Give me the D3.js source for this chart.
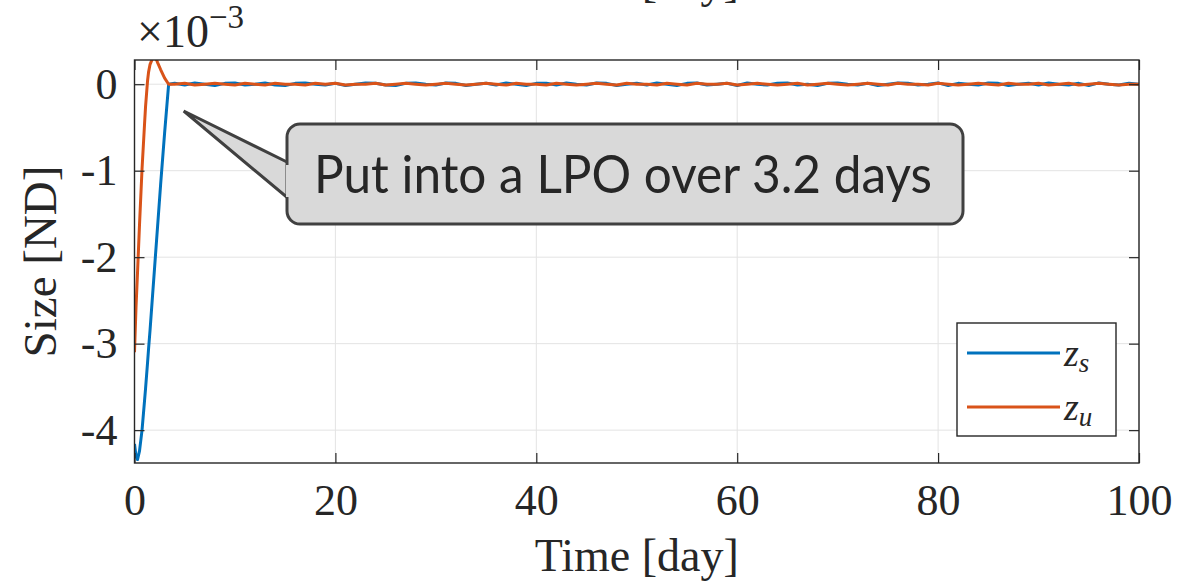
<!DOCTYPE html>
<html>
<head>
<meta charset="utf-8">
<script src="https://cdn.jsdelivr.net/npm/d3@7"></script>
<style>
  body { margin: 0; background: #fff; }
  text { fill: #262626; }
</style>
</head>
<body>
<div id="chart"></div>
<script>
// time in days, values in units of 1e-3 (ND)
var timeDays = [0, 0.15, 0.3, 0.5, 0.75, 1.0, 1.1, 1.3, 1.4, 1.55, 1.8, 2.0, 2.2, 2.3, 2.6, 3.0, 3.4,
  4, 5, 6, 7, 8, 9, 10, 11, 12, 13, 14, 15, 16, 17, 18, 19, 20, 21, 22, 23, 24, 25, 26, 27, 28, 29,
  30, 31, 32, 33, 34, 35, 36, 37, 38, 39, 40, 41, 42, 43, 44, 45, 46, 47, 48, 49, 50, 51, 52, 53, 54,
  55, 56, 57, 58, 59, 60, 61, 62, 63, 64, 65, 66, 67, 68, 69, 70, 71, 72, 73, 74, 75, 76, 77, 78, 79,
  80, 81, 82, 83, 84, 85, 86, 87, 88, 89, 90, 91, 92, 93, 94, 95, 96, 97, 98, 99, 100];

var zs = [-4.16, -4.30, -4.34, -4.24, -4.00, -3.66, -3.52, -3.22, -3.06, -2.84, -2.44, -2.12, -1.80, -1.64, -1.16, -0.56, 0.00,
  0.01, -0.01, 0.015, 0.00, -0.015, 0.01, 0.015, -0.01, 0.00, 0.015,
  -0.01, -0.015, 0.01, 0.015, 0.00, -0.01, 0.01, -0.015, 0.00, 0.015,
  0.01, -0.01, -0.015, 0.01, 0.015, 0.00, -0.01, 0.015, 0.01, -0.015,
  0.00, 0.01, -0.01, 0.015, 0.00, -0.015, 0.01, 0.01, -0.01, 0.015,
  0.00, -0.01, 0.015, 0.01, -0.015, 0.00, 0.01, -0.01, 0.015, 0.00,
  -0.015, 0.01, 0.015, -0.01, 0.00, 0.01, -0.015, 0.015, 0.00, -0.01,
  0.01, 0.015, -0.01, 0.00, -0.015, 0.01, 0.015, 0.00, -0.01, 0.01,
  -0.015, 0.00, 0.015, 0.01, -0.01, 0.00, 0.015, -0.015, 0.01, 0.00,
  -0.01, 0.015, 0.01, -0.015, 0.00, 0.01, -0.01, 0.015, 0.00, -0.01,
  0.01, -0.015, 0.015, 0.00, -0.01, 0.01, 0.00];

var zu = [-3.10, -2.58, -2.18, -1.62, -0.98, -0.46, -0.26, 0.04, 0.14, 0.23, 0.30, 0.30, 0.28, 0.25, 0.17, 0.07, 0.00,
  0.00, 0.01, -0.01, 0.00, 0.01, 0.00, -0.01, 0.01, 0.00, -0.01,
  0.01, 0.00, 0.00, -0.01, 0.01, 0.00, 0.01, -0.01, 0.00, 0.00,
  0.01, -0.01, 0.00, 0.01, 0.00, -0.01, 0.00, 0.01, 0.00, -0.01,
  0.00, 0.01, 0.00, -0.01, 0.01, 0.00, 0.00, -0.01, 0.01, 0.00,
  -0.01, 0.00, 0.01, 0.00, -0.01, 0.01, 0.00, 0.00, -0.01, 0.01,
  0.00, -0.01, 0.01, 0.00, 0.00, 0.01, -0.01, 0.00, 0.01, 0.00,
  -0.01, 0.00, 0.01, -0.01, 0.00, 0.01, 0.00, -0.01, 0.00, 0.01,
  0.00, -0.01, 0.01, 0.00, 0.00, -0.01, 0.01, 0.00, -0.01, 0.00,
  0.01, 0.00, -0.01, 0.01, 0.00, 0.00, 0.01, -0.01, 0.00, 0.01,
  -0.01, 0.00, 0.01, 0.00, -0.01, 0.00, 0.00];

var xTicks = [0, 20, 40, 60, 80, 100];
var yTicks = [-4, -3, -2, -1, 0];
var seriesNames = ["s", "u"];
var seriesColors = ["#0072BD", "#D95319"];
var noteText = "Put into a LPO over 3.2 days";

var width = 1197, height = 583;
var pL = 134.5, pR = 1139, pT = 60, pB = 463;
var serif = "'Liberation Serif', 'DejaVu Serif', serif";

var svg = d3.select("#chart").append("svg")
    .attr("width", width).attr("height", height);

var x = d3.scaleLinear().domain([0, 100]).range([pL, pR]);
var y = d3.scaleLinear().domain([-4.38, 0.28]).range([pB, pT]);

// cut-off label of the panel above
svg.append("text").text("Time [day]")
    .attr("x", (pL + pR) / 2).attr("y", -3)
    .attr("text-anchor", "middle")
    .style("font-family", serif).style("font-size", "46px");

// grid
svg.append("g").selectAll("line").data(xTicks).join("line")
    .attr("x1", d => x(d)).attr("x2", d => x(d))
    .attr("y1", pT).attr("y2", pB)
    .attr("stroke", "#e3e3e3").attr("stroke-width", 1);
svg.append("g").selectAll("line").data(yTicks).join("line")
    .attr("x1", pL).attr("x2", pR)
    .attr("y1", d => y(d)).attr("y2", d => y(d))
    .attr("stroke", "#e3e3e3").attr("stroke-width", 1);

// lines
svg.append("clipPath").attr("id", "clip").append("rect")
    .attr("x", pL).attr("y", pT).attr("width", pR - pL).attr("height", pB - pT);

var line = d3.line().x(d => x(d[0])).y(d => y(d[1]));
var plot = svg.append("g").attr("clip-path", "url(#clip)");
[zs, zu].forEach(function (vals, k) {
  plot.append("path")
      .datum(timeDays.map((t, i) => [t, vals[i]]))
      .attr("d", line)
      .attr("fill", "none")
      .attr("stroke", seriesColors[k])
      .attr("stroke-width", 3)
      .attr("stroke-linejoin", "round");
});

// axes (ticks inward, box on)
function styleAxis(g) {
  g.select(".domain").remove();
  g.selectAll(".tick line").attr("stroke", "#262626").attr("stroke-width", 1.2);
  g.selectAll(".tick text").style("font-family", serif).style("font-size", "44px").attr("fill", "#262626");
}
svg.append("g").attr("transform", "translate(0," + pB + ")")
    .call(d3.axisBottom(x).tickValues(xTicks).tickSize(-10).tickPadding(21).tickFormat(d3.format("d")))
    .call(styleAxis);
svg.append("g").attr("transform", "translate(0," + pT + ")")
    .call(d3.axisTop(x).tickValues(xTicks).tickSize(-10).tickFormat(""))
    .call(styleAxis);
svg.append("g").attr("transform", "translate(" + pL + ",0)")
    .call(d3.axisLeft(y).tickValues(yTicks).tickSize(-10).tickPadding(17).tickFormat(d => String(d)))
    .call(styleAxis);
svg.append("g").attr("transform", "translate(" + pR + ",0)")
    .call(d3.axisRight(y).tickValues(yTicks).tickSize(-10).tickFormat(""))
    .call(styleAxis);

svg.append("rect")
    .attr("x", pL).attr("y", pT).attr("width", pR - pL).attr("height", pB - pT)
    .attr("fill", "none").attr("stroke", "#262626").attr("stroke-width", 1.4);

// exponent
var expo = svg.append("text").attr("x", 137).attr("y", 47)
    .style("font-family", serif).style("font-size", "46px");
expo.append("tspan").text("\u00d710");
expo.append("tspan").text("\u22123").attr("dy", -19).style("font-size", "33px");

// axis labels
svg.append("text").text("Time [day]")
    .attr("x", (pL + pR) / 2).attr("y", 571)
    .attr("text-anchor", "middle")
    .style("font-family", serif).style("font-size", "46px");
svg.append("text").text("Size [ND]")
    .attr("transform", "translate(56," + ((pT + pB) / 2) + ") rotate(-90)")
    .attr("text-anchor", "middle")
    .style("font-family", serif).style("font-size", "47px");

// legend
var lg = svg.append("g");
lg.append("rect").attr("x", 957).attr("y", 323).attr("width", 159).attr("height", 113)
    .attr("fill", "#fff").attr("stroke", "#262626").attr("stroke-width", 1.4);
seriesNames.forEach(function (nm, k) {
  var ly = 353 + k * 54;
  lg.append("line").attr("x1", 967).attr("x2", 1060).attr("y1", ly).attr("y2", ly)
      .attr("stroke", seriesColors[k]).attr("stroke-width", 3);
  var t = lg.append("text").attr("x", 1064).attr("y", ly + 13)
      .style("font-family", serif).style("font-size", "38px").style("font-style", "italic");
  t.append("tspan").text("z");
  t.append("tspan").text(nm).attr("dy", 6).style("font-size", "27px");
});

// callout
var bx = 287, by = 124, bw = 676, bh = 100;
var callout = svg.append("g");
callout.append("path")
    .attr("d", "M" + (bx + 2) + "," + 163 + " L" + x(4.9) + "," + y(-0.31) + " L" + (bx + 2) + "," + 199 + " Z")
    .attr("fill", "#d9d9d9").attr("stroke", "#404040").attr("stroke-width", 3).attr("stroke-linejoin", "miter");
callout.append("rect").attr("x", bx).attr("y", by).attr("width", bw).attr("height", bh)
    .attr("rx", 13).attr("ry", 13)
    .attr("fill", "#d9d9d9").attr("stroke", "#404040").attr("stroke-width", 3);
callout.append("rect").attr("x", bx - 1).attr("y", 165).attr("width", 5).attr("height", 32)
    .attr("fill", "#d9d9d9");
callout.append("text").text(noteText)
    .attr("x", 314).attr("y", 193)
    .attr("textLength", 618).attr("lengthAdjust", "spacingAndGlyphs")
    .style("font-family", "Lato, 'Noto Sans', sans-serif").style("font-size", "52px").attr("fill", "#000");
</script>
</body>
</html>
